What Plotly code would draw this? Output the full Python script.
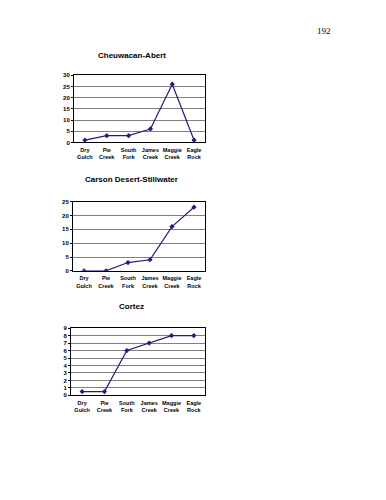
import plotly.graph_objects as go

categories = ["Dry<br>Gulch", "Pie<br>Creek", "South<br>Fork", "James<br>Creek", "Maggie<br>Creek", "Eagle<br>Rock"]
titles = ["Cheuwacan-Abert", "Carson Desert-Stillwater", "Cortez"]
cheuwacan = [1, 3, 3, 6, 26, 1]
carson = [0, 0, 3, 4, 16, 23]
cortez = [0.5, 0.5, 6, 7, 8, 8]
series = [cheuwacan, carson, cortez]
y_max = [30, 25, 9]
y_step = [5, 5, 1]

W, H = 386, 500
OFF = 8  # default page body margin
# plot area pixel boxes (left, right, top, bottom) in page pixels
boxes = [(74, 205, 73, 141), (73, 205, 201, 271), (71, 205, 329, 397)]
title_y = [53, 179, 307]


def px(x):
    return (x - OFF) / W


def py(y):
    return 1 - (y - OFF) / H


fig = go.Figure()
line_color = "#1f1f7a"
for i, vals in enumerate(series):
    n = "" if i == 0 else str(i + 1)
    fig.add_trace(go.Scatter(
        x=categories, y=vals, mode="lines+markers",
        line=dict(color=line_color, width=1.2),
        marker=dict(symbol="diamond", size=4, color=line_color),
        xaxis="x" + n, yaxis="y" + n, showlegend=False, hoverinfo="skip"))
    l, r, top, bot = boxes[i]
    fig.layout["xaxis" + n] = dict(
        domain=[px(l), px(r)], anchor="y" + n, type="category",
        range=[-0.5, 5.5], showgrid=False, showline=True, linecolor="black",
        linewidth=1, mirror=True, ticks="", tickangle=0, ticklabelstandoff=2,
        tickfont=dict(family="Arial", size=5.5, color="black", weight="bold"),
        fixedrange=True)
    fig.layout["yaxis" + n] = dict(
        domain=[py(bot), py(top)], anchor="x" + n,
        range=[0, y_max[i]], dtick=y_step[i], tick0=0, showgrid=True,
        gridcolor="#7f7f7f", gridwidth=1, showline=True, linecolor="black",
        linewidth=1, mirror=True, ticks="outside", ticklen=2, tickcolor="black",
        tickfont=dict(family="Arial", size=6, color="black", weight="bold"),
        zeroline=False, fixedrange=True)
    fig.add_annotation(text="<b>" + titles[i] + "</b>", x=px(132), y=py(title_y[i]),
                       xref="paper", yref="paper", showarrow=False,
                       font=dict(family="Arial", size=8, color="black"),
                       xanchor="center", yanchor="middle")

fig.add_annotation(text="192", x=px(324), y=py(28), xref="paper", yref="paper",
                   showarrow=False, font=dict(family="Liberation Serif", size=9, color="black"),
                   xanchor="center", yanchor="middle")

fig.update_layout(width=W, height=H, margin=dict(l=0, r=0, t=0, b=0),
                  paper_bgcolor="white", plot_bgcolor="white")
fig.write_html("out.html")
